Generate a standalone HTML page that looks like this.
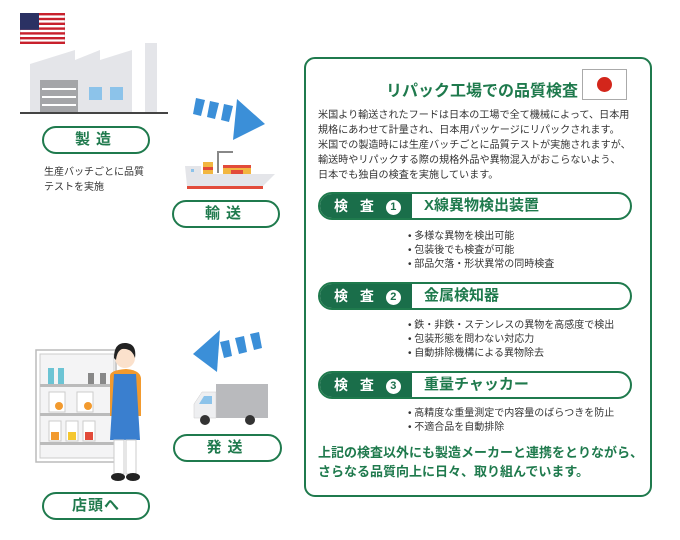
<!DOCTYPE html>
<html><head><meta charset="utf-8"><style>
body{margin:0;width:680px;height:540px;background:#fff;position:relative;overflow:hidden;font-family:"Liberation Sans","Noto Sans CJK JP",sans-serif;color:#333}
.a{position:absolute}
.pill{position:absolute;border:2.5px solid #1f7a4d;border-radius:16px;box-sizing:border-box;text-align:center;font-weight:bold;color:#1f7a4d;font-size:15px;letter-spacing:6px;background:#fff}
.panel{left:304px;top:57px;width:348px;height:440px;border:2px solid #1f7a4d;border-radius:11px;box-sizing:border-box}
.bar{position:absolute;left:318px;width:314px;height:28px;border:2px solid #1f7a4d;border-radius:15px;box-sizing:border-box;overflow:hidden;background:#fff}
.bar .d{position:absolute;left:0;top:0;bottom:0;width:92px;background:#1a6e4a;color:#fff;font-weight:bold;font-size:14px;line-height:24px;padding-left:14px;box-sizing:border-box;letter-spacing:4px}
.bar .t{position:absolute;left:104px;top:0;line-height:24px;font-weight:bold;font-size:15px;color:#1f7a4d}
.bl{position:absolute;left:408px;font-size:10px;line-height:14px;color:#333}
.c{display:inline-block;width:15px;height:15px;border-radius:50%;background:#fff;color:#1a6e4a;font-size:11px;line-height:15px;text-align:center;letter-spacing:0;vertical-align:1px}
</style></head><body>
<svg class="a" style="left:20px;top:13px" width="45" height="31" viewBox="0 0 45 31">
<rect width="45" height="31" fill="#fff" stroke="#999" stroke-width="0.5"/>
<g fill="#c8202c"><rect y="0" width="45" height="2.4"/><rect y="4.8" width="45" height="2.4"/><rect y="9.6" width="45" height="2.4"/><rect y="14.4" width="45" height="2.4"/><rect y="19.2" width="45" height="2.4"/><rect y="24" width="45" height="2.4"/><rect y="28.6" width="45" height="2.4"/></g>
<rect width="19" height="16.8" fill="#2a3163"/></svg>
<svg class="a" style="left:20px;top:40px" width="150" height="76" viewBox="0 0 150 76">
<polygon points="10,24 55,10 55,20 80,10 80,20 112,10 112,73 10,73" fill="#e4e5e9"/>
<rect x="125" y="3" width="12" height="70" fill="#e4e5e9"/>
<rect x="20" y="40" width="38" height="33" fill="#a4a5a8"/>
<g fill="#fff"><rect x="22" y="48" width="34" height="2"/><rect x="22" y="56" width="34" height="2"/><rect x="22" y="64" width="34" height="2"/></g>
<rect x="69" y="47" width="13" height="13" fill="#8cc3ea"/><rect x="90" y="47" width="13" height="13" fill="#8cc3ea"/>
<rect x="0" y="72" width="148" height="2" fill="#444"/></svg>
<div class="pill" style="left:42px;top:126px;width:108px;height:28px;line-height:23px">製造</div>
<div class="a" style="left:44px;top:165px;font-size:10px;line-height:15px">生産バッチごとに品質<br>テストを実施</div>
<svg class="a" style="left:193px;top:96px" width="74" height="46" viewBox="0 0 74 46">
<g fill="#3b8fd8"><polygon points="3,2 12,4 8,20 0,18"/><polygon points="17,5 26,7 22,23 14,21"/><polygon points="31,8 40,10 36,26 28,24"/><polygon points="44,3 72,28 40,44"/></g></svg>
<svg class="a" style="left:183px;top:146px" width="95" height="46" viewBox="0 0 95 46">
<rect x="34" y="5" width="2" height="22" fill="#888"/><rect x="34" y="5" width="16" height="2" fill="#888"/>
<rect x="20" y="16" width="10" height="12" fill="#f2b640"/><rect x="20" y="21" width="10" height="3" fill="#e24b3a"/>
<rect x="40" y="19" width="28" height="9" fill="#f2b640"/><rect x="40" y="19" width="28" height="3" fill="#e24b3a"/><rect x="48" y="24" width="12" height="4" fill="#e24b3a"/>
<polygon points="2,20 18,20 18,28 92,28 80,40 4,40" fill="#e4e5e9"/>
<rect x="4" y="40" width="76" height="3" fill="#e24b3a"/><rect x="8" y="23" width="3" height="3" fill="#8cc3ea"/></svg>
<div class="pill" style="left:172px;top:200px;width:108px;height:28px;line-height:23px">輸送</div>
<svg class="a" style="left:193px;top:328px" width="74" height="46" viewBox="0 0 74 46">
<g fill="#3b8fd8"><polygon points="27,2 0,26 24,44"/><polygon points="27,14 36,12 39,28 31,30"/><polygon points="42,10 51,8 54,24 46,26"/><polygon points="57,6 66,4 69,20 61,22"/></g></svg>
<svg class="a" style="left:192px;top:382px" width="78" height="44" viewBox="0 0 78 44">
<rect x="24" y="2" width="52" height="34" fill="#b9babd"/>
<polygon points="2,22 10,10 24,10 24,36 2,36" fill="#eeeff1" stroke="#ccc" stroke-width="0.5"/>
<polygon points="7,22 12,14 20,14 20,22" fill="#8cc3ea"/>
<circle cx="13" cy="38" r="5" fill="#333"/><circle cx="58" cy="38" r="5" fill="#333"/></svg>
<div class="pill" style="left:173px;top:434px;width:109px;height:28px;line-height:23px">発送</div>
<svg class="a" style="left:34px;top:336px" width="120" height="150" viewBox="0 0 120 150">
<rect x="2" y="14" width="80" height="112" fill="#fff" stroke="#bbb" stroke-width="1.5"/>
<rect x="6" y="18" width="74" height="104" fill="#f4f4f5" stroke="#ccc"/>
<g fill="#bbb"><rect x="6" y="48" width="74" height="3"/><rect x="6" y="77" width="74" height="3"/><rect x="6" y="106" width="74" height="3"/></g>
<rect x="14" y="32" width="6" height="16" fill="#6cc4d4"/><rect x="24" y="32" width="6" height="16" fill="#6cc4d4"/>
<rect x="54" y="37" width="6" height="11" fill="#888"/><rect x="66" y="37" width="6" height="11" fill="#888"/>
<g fill="#fff" stroke="#ccc"><rect x="15" y="56" width="16" height="20"/><rect x="43" y="56" width="16" height="20"/><rect x="15" y="85" width="12" height="20"/><rect x="32" y="85" width="12" height="20"/><rect x="49" y="85" width="12" height="20"/></g>
<circle cx="25" cy="70" r="4" fill="#f29a2e"/><circle cx="54" cy="70" r="4" fill="#f29a2e"/><rect x="17" y="96" width="8" height="8" fill="#f29a2e"/><rect x="34" y="96" width="8" height="8" fill="#f5c730"/><rect x="51" y="96" width="8" height="8" fill="#e24b3a"/>
<circle cx="91" cy="22" r="10" fill="#fbe1cc"/><path d="M80,22 Q80,6 92,7 Q103,8 101,22 Q98,12 88,13 Q83,15 82,24Z" fill="#222"/>
<path d="M76,40 Q76,34 92,33 Q106,34 107,42 L107,80 L76,80Z" fill="#f29a2e"/>
<polygon points="80,38 102,38 106,104 76,104" fill="#3a7fcf"/>
<rect x="80" y="104" width="10" height="34" fill="#fff" stroke="#ccc"/><rect x="92" y="104" width="10" height="34" fill="#fff" stroke="#ccc"/>
<ellipse cx="84" cy="141" rx="7" ry="4" fill="#222"/><ellipse cx="99" cy="141" rx="7" ry="4" fill="#222"/></svg>
<div class="pill" style="left:42px;top:492px;width:108px;height:28px;line-height:23px;letter-spacing:1px">店頭へ</div>
<div class="a panel"></div>
<div class="a" style="left:386px;top:77px;font-size:16px;font-weight:bold;color:#1f7a4d">リパック工場での品質検査</div>
<div class="a" style="left:582px;top:69px;width:45px;height:31px;border:1px solid #aaa;box-sizing:border-box;background:#fff"><div style="position:absolute;left:14px;top:7px;width:15px;height:15px;border-radius:50%;background:#d3261b"></div></div>
<div class="a" style="left:318px;top:108px;font-size:10.1px;line-height:15px;color:#333;white-space:nowrap">米国より輸送されたフードは日本の工場で全て機械によって、日本用<br>規格にあわせて計量され、日本用パッケージにリパックされます。<br>米国での製造時には生産バッチごとに品質テストが実施されますが、<br>輸送時やリパックする際の規格外品や異物混入がおこらないよう、<br>日本でも独自の検査を実施しています。</div>
<div class="bar" style="top:192px"><div class="d">検 査 <span class="c">1</span></div><div class="t">X線異物検出装置</div></div>
<div class="bl" style="top:230px">• 多様な異物を検出可能<br>• 包装後でも検査が可能<br>• 部品欠落・形状異常の同時検査</div>
<div class="bar" style="top:282px"><div class="d">検 査 <span class="c">2</span></div><div class="t">金属検知器</div></div>
<div class="bl" style="top:319px">• 鉄・非鉄・ステンレスの異物を高感度で検出<br>• 包装形態を問わない対応力<br>• 自動排除機構による異物除去</div>
<div class="bar" style="top:371px"><div class="d">検 査 <span class="c">3</span></div><div class="t">重量チャッカー</div></div>
<div class="bl" style="top:407px">• 高精度な重量測定で内容量のばらつきを防止<br>• 不適合品を自動排除</div>
<div class="a" style="left:318px;top:443px;font-size:13px;line-height:19px;font-weight:bold;color:#1f7a4d;white-space:nowrap">上記の検査以外にも製造メーカーと連携をとりながら、<br>さらなる品質向上に日々、取り組んでいます。</div>
</body></html>
